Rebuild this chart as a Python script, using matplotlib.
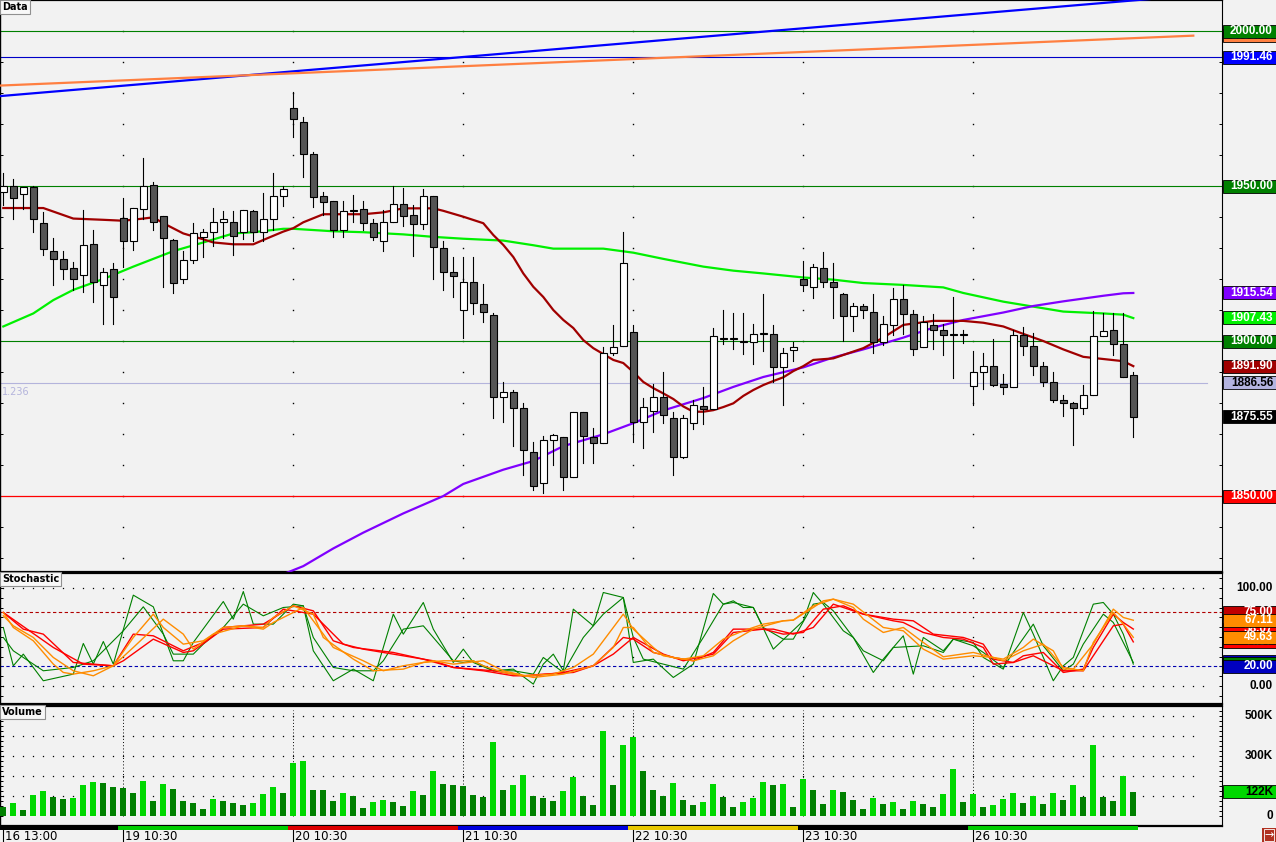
import matplotlib
matplotlib.use('Agg')
import matplotlib.pyplot as plt
from matplotlib.patches import Rectangle
from matplotlib.transforms import blended_transform_factory
import numpy as np

plt.rcParams['font.family'] = ['DejaVu Sans']
plt.rcParams['lines.scale_dashes'] = False

# ---- data: 30 min candles, index 0 = "16 13:00" ----
opens = [1948.0, 1950.1, 1947.3, 1949.6, 1938.0, 1928.9, 1926.4, 1923.5, 1921.2, 1931.2,
         1918.0, 1923.1, 1939.6, 1932.2, 1942.5, 1950.3, 1940.2, 1932.6, 1919.9, 1926.0,
         1933.5, 1935.1, 1938.3, 1938.3, 1935.1, 1941.8, 1935.1, 1939.3, 1946.7, 1975.1,
         1970.5, 1960.2, 1946.9, 1945.1, 1935.7, 1942.2, 1942.7, 1938.0, 1932.2, 1938.3,
         1944.1, 1940.5, 1937.6, 1946.7, 1929.9, 1922.2, 1909.9, 1918.9, 1911.8, 1908.3,
         1881.8, 1883.5, 1878.3, 1864.1, 1854.1, 1868.0, 1868.9, 1856.0, 1877.0, 1868.9,
         1867.0, 1896.0, 1898.3, 1902.8, 1873.8, 1877.3, 1881.8, 1875.1, 1862.5, 1873.5,
         1878.9, 1878.0, 1900.9, 1900.8, 1899.9, 1899.6, 1902.2, 1902.2, 1891.5, 1897.0,
         1919.9, 1917.3, 1923.5, 1918.9, 1915.1, 1908.0, 1911.2, 1909.3, 1899.6, 1905.1,
         1913.5, 1908.6, 1898.0, 1905.1, 1903.5, 1902.2, 1902.2, 1885.4, 1889.9, 1891.8,
         1886.0, 1885.1, 1901.8, 1898.3, 1891.8, 1886.7, 1880.9, 1879.9, 1878.3, 1882.5,
         1901.5, 1903.5, 1898.9, 1888.9]
closes = [1950.1, 1946.0, 1949.6, 1939.3, 1929.6, 1926.4, 1923.1, 1919.9, 1930.9, 1919.1,
          1922.2, 1914.1, 1932.2, 1942.8, 1950.0, 1938.3, 1933.1, 1918.6, 1926.0, 1934.7,
          1935.1, 1938.3, 1939.3, 1933.8, 1942.2, 1935.1, 1939.3, 1946.7, 1949.1, 1971.5,
          1960.2, 1946.4, 1944.7, 1935.7, 1941.8, 1941.8, 1938.0, 1933.5, 1938.3, 1944.1,
          1940.2, 1937.6, 1946.7, 1930.2, 1922.2, 1920.9, 1918.9, 1912.2, 1909.3, 1881.8,
          1883.5, 1878.3, 1864.7, 1853.1, 1868.0, 1869.6, 1856.0, 1877.0, 1869.3, 1867.0,
          1896.0, 1898.0, 1925.1, 1873.8, 1878.6, 1881.8, 1876.0, 1862.5, 1875.1, 1879.3,
          1878.0, 1901.5, 1900.5, 1900.9, 1899.6, 1902.2, 1902.3, 1891.5, 1896.0, 1898.0,
          1918.0, 1923.8, 1918.9, 1917.3, 1908.0, 1911.2, 1909.9, 1899.6, 1905.4, 1913.5,
          1908.6, 1897.3, 1906.0, 1903.5, 1901.8, 1901.8, 1901.8, 1889.9, 1891.8, 1885.7,
          1885.1, 1901.8, 1898.3, 1891.8, 1886.7, 1880.9, 1879.9, 1878.3, 1882.5, 1901.5,
          1903.1, 1898.9, 1888.3, 1875.55]
highs = [1954.2, 1952.3, 1949.7, 1950.0, 1941.6, 1933.1, 1928.9, 1925.4, 1942.2, 1935.8,
         1923.6, 1925.1, 1946.1, 1942.8, 1959.0, 1951.2, 1940.2, 1932.8, 1929.1, 1938.1,
         1936.2, 1942.9, 1941.9, 1941.8, 1942.2, 1942.2, 1947.8, 1954.2, 1950.1, 1980.3,
         1972.4, 1960.9, 1948.1, 1945.1, 1945.1, 1947.1, 1945.1, 1939.5, 1942.2, 1950.0,
         1949.3, 1943.8, 1948.9, 1946.7, 1932.3, 1927.1, 1927.1, 1927.1, 1918.3, 1908.9,
         1886.7, 1884.1, 1879.9, 1867.3, 1869.4, 1869.9, 1868.9, 1877.0, 1877.0, 1871.8,
         1898.0, 1905.1, 1935.2, 1905.1, 1881.5, 1886.0, 1889.9, 1877.0, 1876.0, 1880.9,
         1885.1, 1904.1, 1909.9, 1908.9, 1908.9, 1905.4, 1915.1, 1905.1, 1897.6, 1899.6,
         1925.7, 1924.7, 1928.6, 1925.1, 1915.4, 1912.2, 1911.8, 1915.1, 1908.0, 1917.0,
         1918.1, 1909.9, 1908.0, 1908.6, 1905.4, 1914.2, 1903.5, 1896.8, 1896.0, 1900.5,
         1889.3, 1903.5, 1904.4, 1902.5, 1893.1, 1889.9, 1882.5, 1880.2, 1885.7, 1909.6,
         1908.9, 1908.9, 1908.9, 1889.9]
lows = [1943.9, 1939.3, 1942.6, 1935.3, 1927.7, 1918.1, 1920.1, 1916.5, 1915.9, 1912.7,
        1905.4, 1905.4, 1924.0, 1929.4, 1939.3, 1935.8, 1917.3, 1915.4, 1918.8, 1925.3,
        1927.2, 1930.6, 1933.3, 1927.8, 1932.8, 1932.2, 1932.2, 1935.8, 1943.5, 1965.9,
        1952.8, 1943.1, 1940.6, 1933.5, 1933.5, 1938.3, 1935.8, 1932.6, 1928.9, 1938.3,
        1937.0, 1927.3, 1936.0, 1920.1, 1916.5, 1914.3, 1901.1, 1908.6, 1906.2, 1875.3,
        1874.0, 1866.1, 1856.8, 1851.9, 1851.1, 1860.0, 1851.9, 1856.0, 1860.7, 1860.7,
        1867.0, 1895.4, 1898.3, 1867.3, 1865.4, 1870.7, 1873.5, 1856.9, 1862.2, 1871.5,
        1873.1, 1878.0, 1898.9, 1897.3, 1895.7, 1892.5, 1896.7, 1886.7, 1879.3, 1893.5,
        1916.2, 1914.0, 1917.5, 1907.3, 1899.9, 1903.3, 1907.3, 1896.0, 1898.6, 1901.8,
        1902.2, 1895.4, 1898.0, 1897.3, 1895.4, 1888.0, 1899.3, 1879.3, 1884.4, 1885.4,
        1882.8, 1885.1, 1895.4, 1888.9, 1885.4, 1880.2, 1875.7, 1866.4, 1876.4, 1882.5,
        1901.5, 1895.4, 1888.3, 1868.9]

# volume in thousands, 1 = volume higher than previous bar (bright green)
volumes = [45, 65, 30, 105, 125, 95, 85, 90, 155, 170,
           165, 145, 140, 115, 175, 75, 160, 135, 75, 65,
           35, 85, 75, 65, 55, 65, 110, 145, 115, 265,
           275, 130, 130, 75, 115, 100, 40, 70, 80, 70,
           50, 125, 105, 225, 160, 155, 150, 105, 95, 370,
           130, 155, 205, 100, 90, 75, 125, 195, 100, 55,
           425, 155, 355, 395, 225, 130, 100, 165, 80, 55,
           70, 160, 95, 45, 70, 90, 170, 155, 160, 45,
           185, 130, 60, 130, 120, 80, 35, 90, 60, 70,
           35, 75, 60, 45, 110, 235, 70, 110, 45, 55,
           85, 115, 65, 100, 60, 115, 80, 155, 95, 355,
           95, 75, 200, 122]
vol_up = [0, 1, 0, 1, 1, 0, 0, 1, 1, 1,
          0, 0, 0, 0, 1, 0, 1, 0, 0, 0,
          0, 1, 0, 0, 0, 1, 1, 1, 0, 1,
          1, 0, 0, 0, 1, 0, 0, 1, 1, 0,
          0, 1, 0, 1, 0, 0, 0, 0, 0, 1,
          0, 1, 1, 0, 0, 0, 1, 1, 0, 0,
          1, 0, 1, 1, 0, 0, 0, 1, 0, 0,
          1, 1, 0, 0, 1, 1, 1, 0, 1, 0,
          1, 0, 0, 1, 0, 0, 0, 1, 0, 1,
          0, 1, 0, 0, 1, 1, 0, 1, 0, 1,
          1, 1, 0, 1, 0, 1, 0, 1, 0, 1,
          0, 0, 1, 0]

# moving averages / curves (bar index, price)
ma_red = [(0, 1942.9), (4, 1942.9), (7, 1939.5), (10, 1939.1), (12, 1938.8), (14, 1939.5),
          (15, 1939.9), (16, 1938.0), (18, 1934.7), (20, 1932.8), (21, 1931.8), (23, 1931.2),
          (25, 1931.2), (26, 1932.6), (28, 1935.3), (29, 1936.4), (30, 1938.3), (32, 1940.9),
          (34, 1940.9), (36, 1940.9), (38, 1941.5), (40, 1942.8), (43, 1942.8), (44, 1942.0),
          (46, 1940.1), (48, 1938.0), (49, 1934.2), (50, 1931.0), (51, 1927.1), (52, 1921.8),
          (53, 1917.5), (54, 1914.2), (55, 1910.0), (56, 1906.8), (57, 1904.2), (58, 1900.3),
          (59, 1897.7), (60, 1895.8), (61, 1893.9), (62, 1892.9), (63, 1890.0), (64, 1886.8),
          (65, 1884.8), (66, 1883.1), (67, 1881.3), (68, 1878.9), (69, 1877.2), (70, 1877.2),
          (71, 1877.7), (72, 1878.7), (73, 1879.9), (74, 1882.3), (75, 1884.2), (76, 1885.8),
          (77, 1887.1), (78, 1888.3), (79, 1890.3), (80, 1891.9), (81, 1893.9), (83, 1894.4),
          (86, 1897.7), (88, 1901.1), (90, 1905.2), (93, 1906.5), (96, 1906.5), (98, 1905.9),
          (100, 1904.7), (102, 1902.3), (104, 1900.0), (106, 1897.3), (108, 1894.9),
          (110, 1894.2), (112, 1893.5), (113, 1891.9)]
ma_green = [(0, 1904.7), (3, 1908.9), (5, 1913.2), (7, 1916.5), (10, 1920.0), (13, 1924.0),
            (17, 1929.0), (20, 1931.8), (23, 1934.7), (25, 1935.1), (28, 1936.2), (29, 1936.2),
            (31, 1935.8), (33, 1935.4), (36, 1935.1), (40, 1934.4), (43, 1933.6), (46, 1933.0),
            (50, 1932.4), (53, 1930.9), (55, 1929.8), (60, 1929.8), (63, 1928.5), (66, 1926.5),
            (70, 1924.0), (73, 1922.7), (76, 1921.8), (80, 1920.5), (83, 1919.8), (86, 1918.7),
            (90, 1918.1), (94, 1917.3), (96, 1915.5), (100, 1912.7), (103, 1911.1),
            (106, 1909.5), (110, 1908.9), (112, 1908.5), (113, 1907.4)]
ma_purple = [(28, 1824.8), (30, 1827.4), (33, 1833.1), (36, 1838.2), (40, 1844.4), (44, 1850.0),
             (46, 1853.9), (50, 1858.5), (53, 1861.3), (56, 1866.1), (60, 1869.9), (63, 1873.5),
             (66, 1877.6), (70, 1881.6), (73, 1885.2), (76, 1888.4), (80, 1891.5), (83, 1894.7),
             (86, 1897.3), (90, 1901.1), (93, 1904.3), (96, 1906.8), (100, 1909.2),
             (103, 1911.3), (106, 1912.8), (110, 1914.6), (112, 1915.4), (113, 1915.5)]

# trend lines (start, end)
trend_blue = [(-0.33, 1979.0), (119.0, 2011.5)]
trend_orange = [(-0.33, 1982.4), (119.0, 1998.5)]

# stochastic lines (bar index, value)
stoch_green_a = [(0, 59.7), (1, 20.6), (2, 32.5), (4, 5.3), (7, 12.1), (8, 43.4), (9, 22.3),
                 (10, 45.4), (11, 22.3), (13, 92.7), (15, 80.8), (17, 25.7), (18, 25.7),
                 (19, 44.4), (22, 86.2), (23, 68.2), (24, 96.4), (25, 63.1), (27, 63.1),
                 (29, 83.5), (30, 81.8), (31, 35.9), (33, 5.3), (35, 17.2), (37, 5.3),
                 (39, 73.3), (40, 52.9), (42, 85.2), (43, 58), (45, 24), (46, 37.6), (47, 24),
                 (49, 15.5), (51, 17.2), (53, 1.9), (54, 22.3), (55, 32.5), (56, 15.5),
                 (57, 78.4), (59, 61.4), (60, 95.4), (62, 90.3), (63, 24), (65, 27.4),
                 (67, 8.7), (69, 22.3), (71, 94.4), (72, 83.5), (73, 86.9), (74, 80.1),
                 (75, 80.1), (77, 37.6), (80, 66.5), (81, 95.4), (82, 83.5), (84, 56.3),
                 (85, 49.5), (87, 13.8), (88, 27.4), (90, 51.2), (91, 12.1), (92, 49.5),
                 (94, 35.9), (95, 47.8), (97, 44.4), (98, 29.1), (100, 17.2), (102, 75),
                 (103, 52.9), (105, 5.3), (106, 20.6), (107, 29.1), (109, 83.5), (110, 85.2),
                 (111, 73.3), (112, 52.9), (113, 22.3)]
stoch_green_b = [(0, 49.5), (1, 35.9), (3, 22.3), (4, 15.5), (7, 18.9), (9, 25.7), (12, 56.3),
                 (14, 80.8), (16, 52.9), (17, 32.5), (19, 32.5), (20, 42.7), (22, 59.7),
                 (24, 83.5), (26, 71.6), (28, 80.1), (30, 81.8), (31, 49.5), (33, 18.9),
                 (35, 15.5), (37, 15.5), (38, 25.7), (40, 58), (42, 61.4), (45, 25.7),
                 (46, 24), (47, 25.7), (49, 15.5), (51, 15.5), (53, 12.1), (54, 29.1),
                 (56, 13.8), (58, 49.5), (60, 73.3), (62, 90.3), (63, 49.5), (64, 27.4),
                 (68, 17.2), (70, 49.5), (72, 83.5), (73, 85.2), (75, 80.1), (76, 59.7),
                 (78, 47.8), (79, 47.8), (81, 83.5), (82, 85.2), (83, 76.7), (86, 35.9),
                 (88, 25.7), (89, 39.3), (92, 41), (94, 34.2), (95, 47.8), (97, 41),
                 (98, 34.2), (100, 18.9), (101, 34.2), (103, 63.1), (104, 41), (106, 15.5),
                 (107, 22.3), (108, 42.7), (110, 73.3), (111, 64.8), (113, 24.0)]
stoch_orange_a = [(0, 75), (1, 59.7), (3, 46.1), (5, 22.3), (6, 13.8), (7, 12.1), (9, 15.5),
                  (11, 20.6), (13, 49.5), (15, 73.3), (16, 59.7), (18, 42.7), (20, 46.1),
                  (22, 59.7), (24, 61.4), (26, 59.7), (27, 69.9), (29, 81.8), (31, 73.3),
                  (32, 49.5), (35, 27.4), (37, 15.5), (40, 17.2), (42, 24), (44, 25.7),
                  (47, 25.7), (48, 20.6), (50, 13.8), (52, 10.4), (55, 12.1), (57, 18.9),
                  (59, 32.5), (62, 73.3), (63, 58), (65, 39.3), (66, 30.8), (68, 27.4),
                  (70, 30.8), (72, 47.8), (74, 56.3), (76, 63.1), (78, 66.5), (79, 67.2),
                  (81, 80.1), (82, 86.9), (83, 88.6), (85, 80.1), (86, 68.2), (88, 54.6),
                  (90, 59.7), (92, 44.4), (94, 29.8), (97, 34.2), (99, 29.1), (100, 27.4),
                  (102, 39.3), (103, 47.8), (105, 35.9), (106, 17.2), (107, 17.2), (109, 42.7),
                  (111, 78.4), (112, 69.9), (113, 67.1)]
stoch_orange_b = [(0, 71.6), (1, 61.4), (3, 49.5), (5, 29.1), (7, 15.5), (9, 10.4), (11, 20.6),
                  (13, 39.3), (16, 68.2), (18, 52.9), (19, 37.6), (21, 52.9), (24, 61.4),
                  (26, 58), (27, 64.8), (30, 80.1), (31, 66.5), (33, 39.3), (36, 25.7),
                  (38, 15.5), (40, 20.6), (43, 25.7), (45, 22.3), (48, 25.7), (50, 15.5),
                  (53, 8.7), (56, 12.1), (59, 20.6), (61, 39.3), (62, 59.7), (63, 59.7),
                  (65, 34.2), (67, 29.1), (69, 25.7), (71, 30.8), (73, 46.1), (75, 58),
                  (78, 66.5), (79, 67.2), (81, 81.8), (83, 88.6), (85, 83.5), (88, 59.7),
                  (90, 56.3), (92, 37.6), (94, 27.4), (97, 30.8), (99, 29.1), (100, 25.7),
                  (102, 35.9), (104, 42.7), (106, 18.9), (108, 15.5), (109, 44.4), (111, 75),
                  (112, 63.1), (113, 49.6)]
stoch_red_a = [(0, 75), (2, 58), (4, 52.9), (7, 24), (9, 22.3), (11, 20.6), (13, 52.9),
               (15, 51.2), (18, 35.9), (20, 44.4), (22, 59.7), (24, 61.4), (26, 63.1),
               (29, 81.8), (31, 76.7), (33, 46.1), (35, 39.3), (39, 34.2), (42, 27.4),
               (45, 18.9), (48, 15.5), (51, 10.4), (53, 10.4), (56, 13.8), (59, 20.6),
               (62, 49.5), (63, 47.8), (65, 34.2), (67, 29.1), (69, 25.7), (71, 34.2),
               (73, 58), (75, 58), (77, 58), (79, 52.9), (81, 59.7), (83, 83.5), (84, 80.1),
               (86, 73.3), (89, 66.5), (90, 64.8), (92, 54.6), (94, 49.5), (96, 47.8),
               (98, 39.3), (99, 22.3), (101, 24), (102, 30.8), (104, 34.2), (106, 13.8),
               (108, 17.2), (109, 39.3), (111, 73.3), (112, 64.8), (113, 58.1)]
stoch_red_b = [(0, 75), (5, 39.3), (8, 22.3), (11, 20.6), (12, 25.7), (15, 47.8), (18, 34.2),
               (19, 35.9), (22, 58), (26, 59.7), (28, 78.4), (31, 73.3), (34, 42.7),
               (36, 37.6), (40, 30.8), (43, 25.7), (45, 18.9), (49, 15.5), (52, 10.4),
               (54, 12.1), (57, 13.8), (59, 20.6), (61, 32.5), (63, 49.5), (66, 32.5),
               (68, 25.7), (71, 32.5), (73, 54.6), (76, 58), (78, 52.9), (80, 54.6),
               (82, 78.4), (84, 81.8), (86, 73.3), (89, 68.2), (91, 66.5), (93, 52.9),
               (96, 49.5), (98, 42.7), (99, 27.4), (101, 24), (103, 30.8), (106, 15.5),
               (108, 15.5), (109, 30.8), (111, 61.4), (112, 63.1), (113, 45.0)]

day_idx = [0, 12, 29, 46, 63, 80, 97]
day_labels = ['16 13:00', '19 10:30', '20 10:30', '21 10:30', '22 10:30', '23 10:30', '26 10:30']
strip_colors = ['#000000', '#00cc00', '#dd0000', '#0000dd', '#e8c800', '#000000', '#00cc00']

# ---- layout (pixel based) ----
FW, FH = 1276, 842
BG = '#f2f2f2'
W = 1222 / FW
XL = (-0.33, 121.87)


def fy(py):
    return 1 - py / FH


fig = plt.figure(figsize=(FW / 100, FH / 100), dpi=100, facecolor=BG)
ax_p = fig.add_axes([0, fy(572), W, 572 / FH])
ax_s = fig.add_axes([0, fy(704), W, (704 - 573) / FH])
ax_v = fig.add_axes([0, fy(826), W, (826 - 706) / FH])
ax_t = fig.add_axes([0, 0, W, 16 / FH])

for ax in (ax_p, ax_s, ax_v):
    ax.set_facecolor(BG)
    ax.set_xlim(*XL)
    ax.set_xticks([])
    ax.spines['top'].set_linewidth(1.6)
    ax.spines['bottom'].set_linewidth(1.6)
    ax.spines['left'].set_linewidth(1.0)
    ax.spines['right'].set_linewidth(0.8)
    ax.tick_params(axis='y', left=True, right=True, direction='in', length=2.5,
                   width=0.7, labelleft=False, labelright=False)

ax_p.set_ylim(1825.5, 2010)
ax_s.set_ylim(-18.4, 115.3)
ax_v.set_ylim(-50, 550)
ax_p.set_yticks(np.arange(1830, 2010, 10))
ax_s.set_yticks(np.arange(-10, 115, 10))
ax_v.set_yticks(np.arange(0, 550, 25))

dots_x = day_idx[1:]
# price panel dot grid
for lvl in np.arange(1830, 2010, 10):
    ax_p.plot(dots_x, [lvl] * len(dots_x), ls='none', marker='s', ms=1.0, mew=0,
              color='black', zorder=1)

# horizontal reference lines
for lvl in (2000, 1950, 1900):
    ax_p.axhline(lvl, color='#008000', lw=0.8, zorder=2)
ax_p.axhline(1991.46, color='#0000c8', lw=0.8, zorder=2)
ax_p.axhline(1850, color='#ff0000', lw=0.9, zorder=2)
ax_p.plot([XL[0], 120.4], [1886.56, 1886.56], color='#b4b4dc', lw=0.8, zorder=2)
ax_p.text(-0.1, 1885.2, '1.236', color='#b4b4dc', fontsize=7, va='top', ha='left')

# trend lines
ax_p.plot([p[0] for p in trend_blue], [p[1] for p in trend_blue], color='#0000ff', lw=1.6, zorder=3)
ax_p.plot([p[0] for p in trend_orange], [p[1] for p in trend_orange], color='#ff7f40', lw=1.6, zorder=3)

# moving averages
for series, col in ((ma_green, '#00f000'), (ma_purple, '#8000ff'), (ma_red, '#a00000')):
    ax_p.plot([p[0] for p in series], [p[1] for p in series], color=col, lw=1.6, zorder=4)

# candles
for i, (o, h, l, c) in enumerate(zip(opens, highs, lows, closes)):
    ax_p.plot([i, i], [l, h], color='black', lw=0.8, zorder=5)
    bot = min(o, c)
    hgt = max(abs(c - o), 0.3)
    fc = 'white' if c >= o else '#555555'
    ax_p.add_patch(Rectangle((i - 0.33, bot), 0.66, hgt, fc=fc, ec='black', lw=0.8, zorder=6))

# stochastic panel
for lvl in (100, 0):
    ax_s.plot(np.arange(0, 121), [lvl] * 121, ls='none', marker='s', ms=0.9, mew=0, color='black')
for x in dots_x:
    ax_s.plot([x] * 5, [10, 30, 50, 70, 90], ls='none', marker='s', ms=0.9, mew=0, color='black')
ax_s.axhline(75, color='#b00000', lw=0.8, ls=(0, (2.4, 1.8)))
ax_s.axhline(20, color='#0000b0', lw=0.8, ls=(0, (2.4, 1.8)))
for series, col, lw in ((stoch_green_a, '#008000', 0.8), (stoch_green_b, '#008000', 0.8),
                        (stoch_red_a, '#ff0000', 1.0), (stoch_red_b, '#ff0000', 1.0),
                        (stoch_orange_a, '#ff8c00', 1.0), (stoch_orange_b, '#ff8c00', 1.0)):
    ax_s.plot([p[0] for p in series], [p[1] for p in series], color=col, lw=lw)

# volume panel
for lvl in range(100, 600, 100):
    ax_v.plot(np.arange(0, 120), [lvl] * 120, ls='none', marker='s', ms=0.9, mew=0, color='black')
for x in dots_x:
    ax_v.plot([x, x], [0, 530], color='black', lw=0.7, ls=(0, (0.7, 1.6)))
vcols = ['#00d800' if u else '#008000' for u in vol_up]
ax_v.bar(np.arange(len(volumes)), volumes, width=0.6, color=vcols, zorder=3)

# right-hand value boxes, later ones cover earlier ones
_z = [20]


def right_label(ax, val, text, fc, tc, ppu, box=True):
    tr = blended_transform_factory(fig.transFigure, ax.transData)
    _z[0] += 2
    if box:
        h = 13 / ppu
        ax.add_patch(Rectangle((1223 / FW, val - h / 2), 53 / FW, h, transform=tr,
                               fc=fc, ec='black', lw=0.6, clip_on=False, zorder=_z[0]))
    if text:
        ax.text(1273 / FW, val, text, transform=tr, ha='right', va='center', color=tc,
                fontsize=8.5, fontweight='bold', family='Liberation Sans', clip_on=False,
                zorder=_z[0] + 1)


right_label(ax_p, 1998.48, '1998.48', '#ff7f40', 'white', 3.1)
right_label(ax_p, 2000.0, '2000.00', '#008000', 'white', 3.1)
right_label(ax_p, 1991.46, '1991.46', '#0000ff', 'white', 3.1)
right_label(ax_p, 1950.0, '1950.00', '#008000', 'white', 3.1)
right_label(ax_p, 1915.54, '1915.54', '#8000ff', 'white', 3.1)
right_label(ax_p, 1907.43, '1907.43', '#00f000', 'white', 3.1)
right_label(ax_p, 1900.0, '1900.00', '#008000', 'white', 3.1)
right_label(ax_p, 1891.90, '1891.90', '#a00000', 'white', 3.1)
right_label(ax_p, 1886.56, '1886.56', '#b4b4e0', 'black', 3.1)
right_label(ax_p, 1875.55, '1875.55', '#000000', 'white', 3.1)
right_label(ax_p, 1850.0, '1850.00', '#ff0000', 'white', 3.1)

right_label(ax_s, 100, '100.00', None, 'black', 0.98, box=False)
right_label(ax_s, 0, '0.00', None, 'black', 0.98, box=False)
right_label(ax_s, 44.97, '44.97', '#ff0000', 'white', 0.98)
right_label(ax_s, 58.07, '58.07', '#ff0000', 'white', 0.98)
right_label(ax_s, 75.0, '75.00', '#c00000', 'white', 0.98)
right_label(ax_s, 49.63, '49.63', '#ff8c00', 'white', 0.98)
right_label(ax_s, 67.11, '67.11', '#ff8c00', 'white', 0.98)
right_label(ax_s, 24.5, '', '#0000c0', 'white', 0.98)
right_label(ax_s, 22.8, '', '#008000', 'white', 0.98)
right_label(ax_s, 20.0, '20.00', '#0000c0', 'white', 0.98)

right_label(ax_v, 500, '500K', None, 'black', 0.2, box=False)
right_label(ax_v, 300, '300K', None, 'black', 0.2, box=False)
right_label(ax_v, 0, '0', None, 'black', 0.2, box=False)
right_label(ax_v, 122, '122K', '#00d800', 'black', 0.2)

# time strip and labels
ax_t.set_facecolor(BG)
ax_t.set_xlim(*XL)
ax_t.set_ylim(0, 16)
ax_t.axis('off')
edges = [XL[0]] + [d - 0.5 for d in day_idx[1:]] + [113.5]
for k, col in enumerate(strip_colors):
    ax_t.add_patch(Rectangle((edges[k], 12), edges[k + 1] - edges[k], 4, fc=col, ec='none'))
for x, lab in zip(day_idx, day_labels):
    ax_t.plot([x, x], [0, 12], color='black', lw=0.8)
    ax_t.text(x + 0.2, 5.5, lab, fontsize=8.5, va='center', ha='left', color='black')

# panel titles
for py, lab in ((7, 'Data'), (579, 'Stochastic'), (712, 'Volume')):
    fig.text(2 / FW, fy(py), lab, fontsize=7, fontweight='bold', va='center', ha='left',
             bbox=dict(boxstyle='square,pad=0.2', fc='#f8f8f8', ec='#909090', lw=0.8))

# corner button
fig.patches.append(Rectangle((1262 / FW, 0), 14 / FW, 14 / FH, transform=fig.transFigure,
                             fc='#b03020', ec='none'))
fig.text(1269 / FW, 7 / FH, '\u2192', color='white', fontsize=8, ha='center', va='center',
         bbox=dict(boxstyle='square,pad=0.05', fc='none', ec='white', lw=0.6))

fig.savefig('out.png', dpi=100, facecolor=BG)
